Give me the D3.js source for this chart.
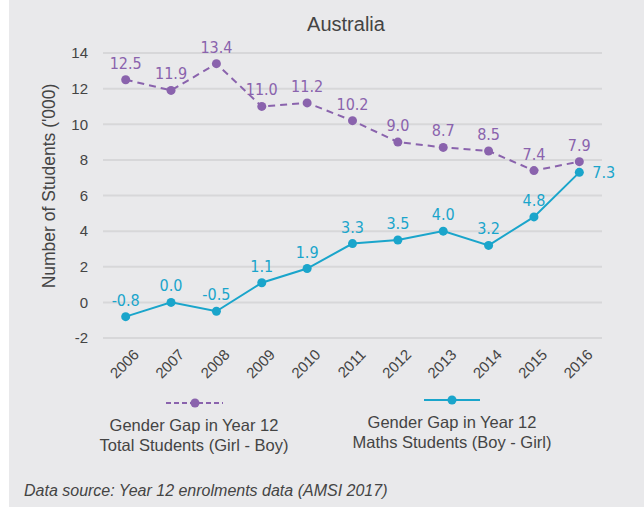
<!DOCTYPE html>
<html>
<head>
<meta charset="utf-8">
<script src="https://cdn.jsdelivr.net/npm/d3@7"></script>
<style>
  body { margin: 0; background: #fff; }
  svg { display: block; }
  text { font-family: "Liberation Sans", Arial, sans-serif; fill: #444; }
  .lbl { font-family: "Liberation Sans Narrow", "DejaVu Sans Condensed", sans-serif; font-size: 16px; }
</style>
</head>
<body>
<svg id="myGraph" width="644" height="509"></svg>
<script>
// 데이터
var years = ["2006","2007","2008","2009","2010","2011","2012","2013","2014","2015","2016"];
var totalGap = [12.5, 11.9, 13.4, 11.0, 11.2, 10.2, 9.0, 8.7, 8.5, 7.4, 7.9];
var mathsGap = [-0.8, 0.0, -0.5, 1.1, 1.9, 3.3, 3.5, 4.0, 3.2, 4.8, 7.3];
var yTicks = [-2, 0, 2, 4, 6, 8, 10, 12, 14];

var purple = "#8a63ad", teal = "#1aa5cb";

var svg = d3.select("#myGraph");

// 배경
svg.append("rect").attr("x", 9).attr("y", 0).attr("width", 635).attr("height", 507)
   .attr("fill", "#e9e9eb");

var plotL = 103, plotR = 602, plotT = 53, plotB = 338;

var xScale = d3.scalePoint().domain(years).range([plotL, plotR]).padding(0.5);
var yScale = d3.scaleLinear().domain([-2, 14]).range([plotB, plotT]);

// 제목
svg.append("text").attr("x", 346).attr("y", 31).attr("text-anchor", "middle")
   .attr("font-size", "20px").text("Australia");

// 그리드
svg.append("g").selectAll("line").data(yTicks).enter().append("line")
   .attr("x1", plotL).attr("x2", plotR)
   .attr("y1", function(d){ return yScale(d); })
   .attr("y2", function(d){ return yScale(d); })
   .attr("stroke", "#d7d7d9").attr("stroke-width", 2);

// y축
var yAxis = svg.append("g").attr("transform", "translate(" + (plotL - 15) + ",0)")
   .call(d3.axisLeft(yScale).tickValues(yTicks).tickSize(0).tickPadding(0)
           .tickFormat(function(d){ return String(d); }));
yAxis.select(".domain").remove();
yAxis.selectAll("text").attr("font-size", "15px").attr("fill", "#444")
   .attr("font-family", "Liberation Sans, Arial, sans-serif");

// x축
var xAxis = svg.append("g").attr("transform", "translate(0," + (plotB + 8) + ")")
   .call(d3.axisBottom(xScale).tickSize(0).tickPadding(0));
xAxis.select(".domain").remove();
xAxis.selectAll("text").attr("font-size", "15px").attr("fill", "#444")
   .attr("font-family", "Liberation Sans, Arial, sans-serif")
   .attr("text-anchor", "end").attr("dy", "0.35em")
   .attr("transform", "translate(10,6) rotate(-45)");

// y축 제목
svg.append("text").attr("transform", "translate(55,186) rotate(-90)")
   .attr("text-anchor", "middle").attr("font-size", "17.5px")
   .text("Number of Students ('000)");

// 선 그리기
var line = d3.line()
   .x(function(d, i){ return xScale(years[i]); })
   .y(function(d){ return yScale(d); });

function drawSeries(data, color, dash){
  svg.append("path").datum(data).attr("d", line).attr("fill", "none")
     .attr("stroke", color).attr("stroke-width", 2)
     .attr("stroke-dasharray", dash);
  svg.append("g").selectAll("circle").data(data).enter().append("circle")
     .attr("cx", function(d, i){ return xScale(years[i]); })
     .attr("cy", function(d){ return yScale(d); })
     .attr("r", 4.5).attr("fill", color);
  svg.append("g").selectAll("text").data(data).enter().append("text")
     .attr("class", "lbl")
     .attr("x", function(d, i){ return xScale(years[i]) + (i == 10 && color == teal ? 13 : 0); })
     .attr("y", function(d, i){ return yScale(d) + (i == 10 && color == teal ? 6 : -11); })
     .attr("text-anchor", function(d, i){ return (i == 10 && color == teal) ? "start" : "middle"; })
     .style("fill", color)
     .text(function(d){ return d.toFixed(1); });
}
drawSeries(totalGap, purple, "7,5");
drawSeries(mathsGap, teal, null);

// 범례
var legend = [
  {x1: 166, x2: 223, cx: 195, ly: 403, color: purple, dash: "5,3", t1: "Gender Gap in Year 12", t2: "Total Students (Girl - Boy)", tx: 194},
  {x1: 424, x2: 480, cx: 452, ly: 400, color: teal, dash: null, t1: "Gender Gap in Year 12", t2: "Maths Students (Boy - Girl)", tx: 452}
];
legend.forEach(function(l){
  svg.append("line").attr("x1", l.x1).attr("x2", l.x2).attr("y1", l.ly).attr("y2", l.ly)
     .attr("stroke", l.color).attr("stroke-width", 2).attr("stroke-dasharray", l.dash);
  svg.append("circle").attr("cx", l.cx).attr("cy", l.ly).attr("r", 4.5).attr("fill", l.color);
  svg.append("text").attr("x", l.tx).attr("y", l.ly + 28).attr("text-anchor", "middle")
     .attr("font-size", "16.5px").text(l.t1);
  svg.append("text").attr("x", l.tx).attr("y", l.ly + 48).attr("text-anchor", "middle")
     .attr("font-size", "16.5px").text(l.t2);
});

// 출처
svg.append("text").attr("x", 24).attr("y", 496).attr("font-size", "16px")
   .attr("font-style", "italic").text("Data source: Year 12 enrolments data (AMSI 2017)");
</script>
</body>
</html>
